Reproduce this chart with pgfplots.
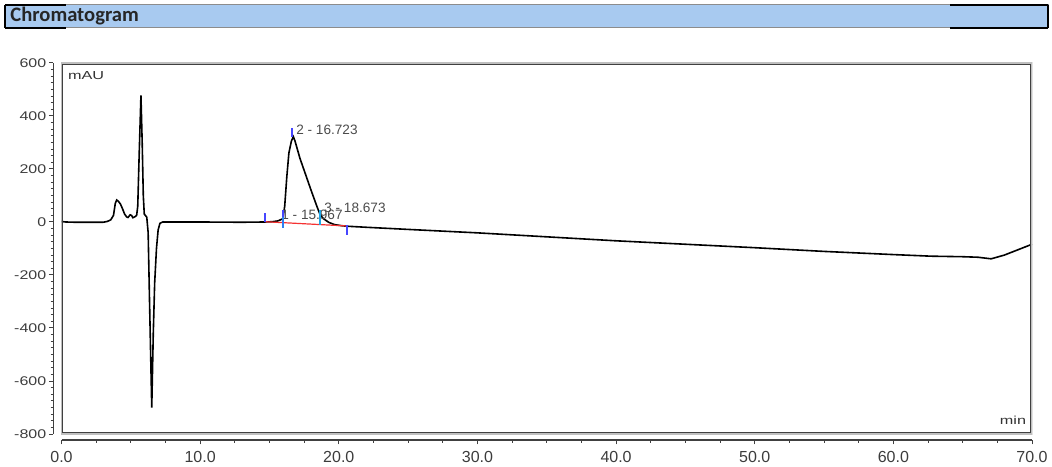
\documentclass[border=0pt]{standalone}
\usepackage{fontspec}
\setmainfont{Liberation Sans}
\newfontfamily\titlefont{Carlito}
\usepackage{graphicx}
\usepackage{pgfplots}
\pgfplotsset{compat=1.18}
\usepackage{pgfplotstable}

\definecolor{barblue}{RGB}{168,202,240}
\definecolor{txtgray}{RGB}{60,60,60}
\definecolor{lblgray}{RGB}{75,75,75}
\definecolor{mkblue}{RGB}{70,70,255}
\definecolor{mkcyan}{RGB}{30,165,230}
\definecolor{intred}{RGB}{245,50,50}

% detector signal (min, mAU)
\pgfplotstableread{
t      s
0      2
0.3    0
1      -1
2      -1
3      -1
3.3    2
3.55   8
3.75   25
3.88   70
3.98   83
4.1    78
4.25   68
4.4    50
4.55   30
4.7    19
4.8    17
4.95   27
5.05   25
5.15   16
5.3    20
5.42   25
5.5    60
5.6    250
5.73   478
5.82   300
5.9    100
5.97   30
6.05   25
6.15   18
6.25   -40
6.35   -300
6.51   -700
6.62   -420
6.72   -230
6.85   -100
6.97   -30
7.1    -5
7.3    0
10     0
13     -1
14.68  0
15.2   1
15.6   4
15.96  12
16.1   60
16.25  170
16.4   260
16.58  305
16.72  322
16.84  306
17.2   240
17.6   180
18.0   120
18.4   62
18.65  28
18.9   12
19.3   -2
19.7   -10
20.2   -14
20.6   -16
22     -20
25     -28
30     -41
35     -56
40     -71
45     -84
50     -97
55     -111
60     -123
62.7   -129
65     -131
66.1   -133
67.05  -139
68     -125
70     -84
}\signal

\begin{document}
\begin{tikzpicture}
\useasboundingbox (0,0) rectangle (526pt,233pt);

% header bar
\fill[barblue] (2.5pt,219pt) rectangle (524pt,230.5pt);
\draw[black!45, line width=0.5pt] (2.5pt,219pt) rectangle (524pt,230.5pt);
\draw[black, line width=1.1pt] (2.5pt,230.5pt) -- (33pt,230.5pt);
\draw[black, line width=1.1pt] (2.5pt,219pt) -- (33pt,219pt);
\draw[black, line width=1.1pt] (475pt,230.5pt) -- (524pt,230.5pt);
\draw[black, line width=1.1pt] (475pt,219pt) -- (524pt,219pt);
\draw[black, line width=1.1pt] (2.5pt,219pt) -- (2.5pt,230.5pt);
\draw[black, line width=1.1pt] (524pt,219pt) -- (524pt,230.5pt);
\node[anchor=base west, inner sep=0, text=black!85]
  at (5pt,222pt) {\titlefont\bfseries\fontsize{10.3}{12}\selectfont Chromatogram};

\begin{axis}[
  at={(30.75pt,16pt)}, anchor=south west,
  scale only axis, width=485.25pt, height=185.5pt,
  xmin=0, xmax=70, ymin=-800, ymax=600,
  axis x line*=bottom, axis y line*=left,
  axis x line shift=3pt, axis y line shift=4.1pt,
  axis line style={black!75, line width=0.7pt},
  xtick={0,10,...,70}, ytick={-800,-600,...,600},
  minor x tick num=3, minor y tick num=7,
  tick align=outside, major tick length=2.2pt, minor tick length=1.3pt,
  tick style={black!75, line width=0.5pt},
  xticklabel style={font=\fontsize{8}{9}\selectfont, text=txtgray,
    /pgf/number format/.cd, fixed, fixed zerofill, precision=1, assume math mode=true},
  yticklabel={\scalebox{1.27}[1]{\pgfmathprintnumber[assume math mode=true]{\tick}}},
  yticklabel style={font=\fontsize{6.3}{7}\selectfont, text=txtgray, xshift=2.2pt},
  clip=true,
]
\addplot[black, line width=0.8pt] table[x=t, y=s] {\signal};
\addplot[intred, line width=0.6pt] coordinates {(14.68,1) (20.57,-15)};

\node[anchor=west, inner sep=0, text=lblgray, font=\fontsize{6.8}{8}\selectfont]
  at (axis cs:16.91,347) {2 - 16.723};
\node[anchor=west, inner sep=0, text=lblgray, font=\fontsize{6.8}{8}\selectfont]
  at (axis cs:15.83,26) {1 - 15.967};
\node[anchor=west, inner sep=0, text=lblgray, font=\fontsize{6.8}{8}\selectfont]
  at (axis cs:18.93,52) {3 - 18.673};

% peak start / apex / end marks
\addplot[mkblue, line width=1pt] coordinates {(14.68,33) (14.68,1)};
\addplot[mkblue, line width=1pt] coordinates {(16.0,47) (16.0,12)};
\addplot[mkcyan!60!mkblue, line width=1pt] coordinates {(16.0,20) (16.0,-24)};
\addplot[mkblue, line width=1pt] coordinates {(16.65,353) (16.65,322)};
\addplot[mkcyan, line width=1pt] coordinates {(18.65,45) (18.65,-11)};
\addplot[mkblue, line width=1pt] coordinates {(20.57,-11) (20.57,-49)};

\node[anchor=west, inner sep=0, text=black!80, font=\fontsize{5.8}{7}\selectfont]
  at (axis cs:0.45,551) {\scalebox{1.4}[1]{mAU}};
\node[anchor=base east, inner sep=0, text=black!80, font=\fontsize{5.8}{7}\selectfont]
  at (axis cs:69.6,-766) {\scalebox{1.4}[1]{min}};

\draw[black!75, line width=0.45pt, double=black!25, double distance=0.8pt]
  (rel axis cs:0,0) rectangle (rel axis cs:1,1);
\end{axis}
\end{tikzpicture}
\end{document}
